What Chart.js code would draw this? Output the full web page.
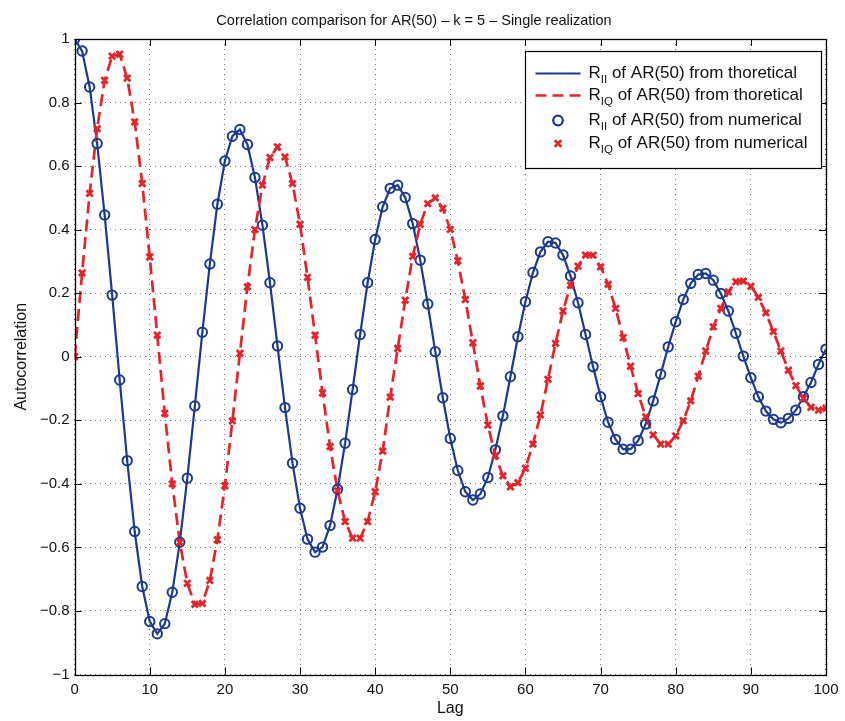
<!DOCTYPE html>
<html>
<head>
<meta charset="utf-8">
<script src="https://cdn.jsdelivr.net/npm/chart.js@4.4.1/dist/chart.umd.min.js"></script>
<style>
  html, body { margin: 0; padding: 0; background: #ffffff; }
  #wrap { width: 845px; height: 721px; position: relative; }
</style>
</head>
<body>
<div id="wrap"><canvas id="c" width="845" height="721"></canvas></div>
<script>
const chartTitle = 'Correlation comparison for AR(50) \u2013 k = 5 \u2013 Single realization';
const xAxisTitle = 'Lag';
const yAxisTitle = 'Autocorrelation';

const lags = [0,1,2,3,4,5,6,7,8,9,10,11,12,13,14,15,16,17,18,19,20,21,22,23,24,25,26,27,28,29,30,31,32,33,34,35,36,37,38,39,40,41,42,43,44,45,46,47,48,49,50,51,52,53,54,55,56,57,58,59,60,61,62,63,64,65,66,67,68,69,70,71,72,73,74,75,76,77,78,79,80,81,82,83,84,85,86,87,88,89,90,91,92,93,94,95,96,97,98,99,100];

const riiTheoretical = [
  1.0, 0.962, 0.849, 0.671, 0.446, 0.194, -0.073, -0.327, -0.550, -0.723,
  -0.833, -0.872, -0.840, -0.741, -0.584, -0.382, -0.155, 0.077, 0.292, 0.480,
  0.616, 0.694, 0.715, 0.668, 0.564, 0.414, 0.233, 0.034, -0.160, -0.335,
  -0.477, -0.574, -0.615, -0.599, -0.531, -0.417, -0.272, -0.103, 0.070, 0.233,
  0.369, 0.472, 0.530, 0.540, 0.501, 0.419, 0.304, 0.166, 0.016, -0.129,
  -0.257, -0.358, -0.425, -0.451, -0.432, -0.380, -0.293, -0.186, -0.063, 0.063,
  0.173, 0.265, 0.330, 0.362, 0.358, 0.320, 0.254, 0.170, 0.070, -0.031,
  -0.126, -0.206, -0.260, -0.291, -0.291, -0.264, -0.212, -0.139, -0.055, 0.031,
  0.110, 0.180, 0.231, 0.259, 0.262, 0.241, 0.199, 0.144, 0.074, 0.002,
  -0.066, -0.126, -0.171, -0.197, -0.208, -0.194, -0.168, -0.126, -0.081, -0.024,
  0.024
];

const riqTheoretical = [
  0.0, 0.264, 0.514, 0.718, 0.870, 0.946, 0.952, 0.877, 0.739, 0.545,
  0.314, 0.068, -0.178, -0.400, -0.584, -0.713, -0.779, -0.776, -0.704, -0.576,
  -0.406, -0.202, 0.011, 0.220, 0.400, 0.540, 0.627, 0.660, 0.629, 0.545,
  0.417, 0.250, 0.068, -0.114, -0.283, -0.422, -0.519, -0.571, -0.571, -0.519,
  -0.425, -0.297, -0.127, 0.026, 0.178, 0.316, 0.417, 0.482, 0.500, 0.467,
  0.401, 0.302, 0.180, 0.044, -0.092, -0.215, -0.312, -0.375, -0.409, -0.396,
  -0.351, -0.275, -0.183, -0.071, 0.042, 0.144, 0.225, 0.285, 0.320, 0.320,
  0.283, 0.228, 0.152, 0.060, -0.030, -0.116, -0.189, -0.246, -0.275, -0.275,
  -0.249, -0.201, -0.139, -0.061, 0.018, 0.094, 0.152, 0.204, 0.236, 0.238,
  0.222, 0.187, 0.138, 0.079, 0.018, -0.042, -0.091, -0.131, -0.159, -0.168,
  -0.162
];

// numerical estimates lie on the theoretical curves in the picture
const riiNumerical = riiTheoretical.slice();
const riqNumerical = riqTheoretical.slice();

const legendLabels = [
  { main: 'R', sub: 'II', rest: ' of AR(50) from thoretical' },
  { main: 'R', sub: 'IQ', rest: ' of AR(50) from thoretical' },
  { main: 'R', sub: 'II', rest: ' of AR(50) from numerical' },
  { main: 'R', sub: 'IQ', rest: ' of AR(50) from numerical' }
];

const BLUE = '#1b3a8f';
const RED = '#e3252b';
const FONT = '"Liberation Sans", Arial, Helvetica, sans-serif';
const RED_DASH = [12, 6];

function pts(values) { return lags.map((l, i) => ({ x: l, y: values[i] })); }

function fmtTick(v) {
  const r = Math.round(v * 10) / 10;
  if (r === 0) return '0';
  const s = String(Math.abs(r));
  return (r < 0 ? '\u2212' : '') + s;
}

const framePlugin = {
  id: 'frame',
  afterDatasetsDraw(chart) {
    const { ctx, chartArea: a, scales } = chart;
    const tl = 7;
    ctx.save();
    ctx.strokeStyle = '#000';
    ctx.lineWidth = 1;
    ctx.beginPath();
    scales.x.ticks.forEach(t => {
      const px = Math.round(scales.x.getPixelForValue(t.value)) + 0.5;
      ctx.moveTo(px, a.bottom); ctx.lineTo(px, a.bottom - tl);
      ctx.moveTo(px, a.top); ctx.lineTo(px, a.top + tl);
    });
    scales.y.ticks.forEach(t => {
      const py = Math.round(scales.y.getPixelForValue(t.value)) + 0.5;
      ctx.moveTo(a.left, py); ctx.lineTo(a.left + tl, py);
      ctx.moveTo(a.right, py); ctx.lineTo(a.right - tl, py);
    });
    ctx.stroke();
    ctx.lineWidth = 1.3;
    ctx.strokeRect(Math.round(a.left) + 0.5, Math.round(a.top) + 0.5,
                   Math.round(a.right - a.left), Math.round(a.bottom - a.top));
    ctx.restore();
  }
};

const legendPlugin = {
  id: 'matlabLegend',
  afterDraw(chart) {
    const { ctx, chartArea: a } = chart;
    const w = 296, h = 117;
    const x0 = Math.round(a.right - 5 - w) + 0.5;
    const y0 = Math.round(a.top + 12) + 0.5;
    ctx.save();
    ctx.fillStyle = '#fff';
    ctx.fillRect(x0, y0, w, h);
    ctx.strokeStyle = '#000';
    ctx.lineWidth = 1.2;
    ctx.strokeRect(x0, y0, w, h);
    const rowY = [22, 44, 69, 92];
    const sx0 = x0 + 10, sx1 = x0 + 55, sxm = (sx0 + sx1) / 2;
    legendLabels.forEach((lab, i) => {
      const y = y0 + rowY[i];
      ctx.save();
      if (i === 0) {
        ctx.strokeStyle = BLUE; ctx.lineWidth = 2.2;
        ctx.beginPath(); ctx.moveTo(sx0, y); ctx.lineTo(sx1, y); ctx.stroke();
      } else if (i === 1) {
        ctx.strokeStyle = RED; ctx.lineWidth = 2.7; ctx.setLineDash([11, 6]);
        ctx.beginPath(); ctx.moveTo(sx0, y); ctx.lineTo(sx1, y); ctx.stroke();
      } else if (i === 2) {
        ctx.strokeStyle = BLUE; ctx.lineWidth = 2.2;
        ctx.beginPath(); ctx.arc(sxm, y, 4.8, 0, Math.PI * 2); ctx.stroke();
      } else {
        ctx.strokeStyle = RED; ctx.lineWidth = 2.8;
        const r = 3.3;
        ctx.beginPath();
        ctx.moveTo(sxm - r, y - r); ctx.lineTo(sxm + r, y + r);
        ctx.moveTo(sxm - r, y + r); ctx.lineTo(sxm + r, y - r);
        ctx.stroke();
      }
      ctx.restore();
      ctx.fillStyle = '#111';
      ctx.textBaseline = 'middle';
      ctx.textAlign = 'left';
      let tx = x0 + 63;
      ctx.font = '17px ' + FONT;
      ctx.fillText(lab.main, tx, y);
      tx += ctx.measureText(lab.main).width;
      ctx.font = '11.5px ' + FONT;
      ctx.fillText(lab.sub, tx, y + 6.5);
      tx += ctx.measureText(lab.sub).width;
      ctx.font = '17px ' + FONT;
      ctx.fillText(lab.rest, tx, y);
    });
    ctx.restore();
  }
};

new Chart(document.getElementById('c'), {
  type: 'line',
  data: {
    datasets: [
      {
        label: 'R_II of AR(50) from thoretical',
        data: pts(riiTheoretical),
        borderColor: BLUE, borderWidth: 2.2, pointRadius: 0,
        fill: false, tension: 0, order: 4
      },
      {
        label: 'R_IQ of AR(50) from thoretical',
        data: pts(riqTheoretical),
        borderColor: RED, borderWidth: 2.7, borderDash: RED_DASH, pointRadius: 0,
        fill: false, tension: 0, order: 3
      },
      {
        label: 'R_II of AR(50) from numerical',
        data: pts(riiNumerical),
        showLine: false, pointStyle: 'circle', pointRadius: 4.7,
        pointBorderWidth: 2, pointBorderColor: BLUE,
        pointBackgroundColor: 'rgba(0,0,0,0)', borderColor: BLUE, order: 2
      },
      {
        label: 'R_IQ of AR(50) from numerical',
        data: pts(riqNumerical),
        showLine: false, pointStyle: 'crossRot', pointRadius: 4.5,
        pointBorderWidth: 2.8, pointBorderColor: RED,
        pointBackgroundColor: RED, borderColor: RED, order: 1
      }
    ]
  },
  options: {
    responsive: false,
    animation: false,
    events: [],
    layout: { padding: { top: 0, right: 17, bottom: 0, left: 0 } },
    plugins: {
      legend: { display: false },
      tooltip: { enabled: false },
      title: {
        display: true, text: chartTitle, color: '#111',
        font: { family: FONT, size: 14.5, weight: 'normal' },
        padding: { top: 11.8, bottom: 9.8 }
      }
    },
    scales: {
      x: {
        type: 'linear', min: 0, max: 100,
        ticks: { stepSize: 10, color: '#111', padding: 6.5,
                 font: { family: FONT, size: 15 }, maxRotation: 0 },
        grid: { color: '#777', lineWidth: 1, drawTicks: false },
        border: { display: false, dash: [1, 4] },
        title: { display: true, text: xAxisTitle, color: '#111',
                 font: { family: FONT, size: 16 }, padding: { top: 0, bottom: 2.4 } },
        afterFit(scale) { scale.height = 46.5; }
      },
      y: {
        type: 'linear', min: -1, max: 1,
        ticks: { stepSize: 0.2, color: '#111', padding: 5,
                 font: { family: FONT, size: 15 }, callback: v => fmtTick(v) },
        grid: { color: '#777', lineWidth: 1, drawTicks: false },
        border: { display: false, dash: [1, 4] },
        title: { display: true, text: yAxisTitle, color: '#111',
                 font: { family: FONT, size: 16 }, padding: { top: 12.4, bottom: 0 } },
        afterFit(scale) { scale.width = 74.6; }
      }
    }
  },
  plugins: [framePlugin, legendPlugin]
});
</script>
</body>
</html>
